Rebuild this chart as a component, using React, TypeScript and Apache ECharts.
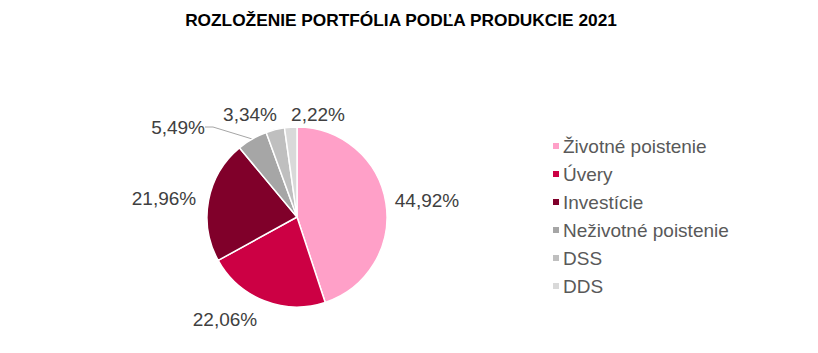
import React, { useEffect, useRef } from "react";
import * as echarts from "echarts";

const categories = ["Životné poistenie", "Úvery", "Investície", "Neživotné poistenie", "DSS", "DDS"];
const values = [44.92, 22.06, 21.96, 5.49, 3.34, 2.22];
const colors = ["#FFA0C8", "#CC0044", "#80002A", "#A6A6A6", "#BFBFBF", "#D9D9D9"];
const showLine = [false, false, false, true, false, false];
// label anchor placement (layout only)
const labelAnchor: [number, number, string][] = [
  [427, 200, "center"],
  [225, 319, "center"],
  [164, 198, "center"],
  [205, 127, "right"],
  [250, 114, "center"],
  [318, 114, "center"],
];

export default function App() {
  const ref = useRef<HTMLDivElement>(null);
  useEffect(() => {
    const chart = echarts.init(ref.current!, null, { renderer: "svg" });
    chart.setOption({
      animation: false,
      title: {
        text: "ROZLOŽENIE PORTFÓLIA PODĽA PRODUKCIE 2021",
        left: 396,
        textAlign: "center",
        top: 6,
        textStyle: { fontFamily: "Liberation Sans", fontSize: 17.3, fontWeight: "bold", color: "#000" },
      },
      legend: {
        orient: "vertical",
        left: 546,
        top: 130,
        icon: "rect",
        itemWidth: 8,
        itemHeight: 8,
        itemGap: 6,
        textStyle: { fontFamily: "Liberation Sans", fontSize: 19, color: "#595959", lineHeight: 22, padding: [0, 0, 0, -2] },
        data: categories,
      },
      series: [
        {
          type: "pie",
          center: [297, 217],
          radius: [0, 90],
          startAngle: 90,
          clockwise: true,
          itemStyle: { borderColor: "#fff", borderWidth: 1.5 },
          label: {
            show: true,
            position: "outside",
            fontFamily: "Liberation Sans",
            fontSize: 19,
            color: "#404040",
            formatter: (p: any) => p.value.toFixed(2).replace(".", ",") + "%",
          },
          labelLine: { show: false, length: 14, length2: 6, lineStyle: { color: "#A6A6A6" } },
          labelLayout: (p: any) => {
            const a = labelAnchor[p.dataIndex];
            return { x: a[0], y: a[1], align: a[2], verticalAlign: "middle" };
          },
          data: categories.map((c, i) => ({
            name: c,
            value: values[i],
            itemStyle: { color: colors[i] },
            labelLine: showLine[i] ? { show: true, length: 1, length2: 8 } : { show: false },
          })),
        },
      ],
    });
    return () => chart.dispose();
  }, []);
  return <div ref={ref} style={{ width: 818, height: 353, margin: -8 }} />;
}
